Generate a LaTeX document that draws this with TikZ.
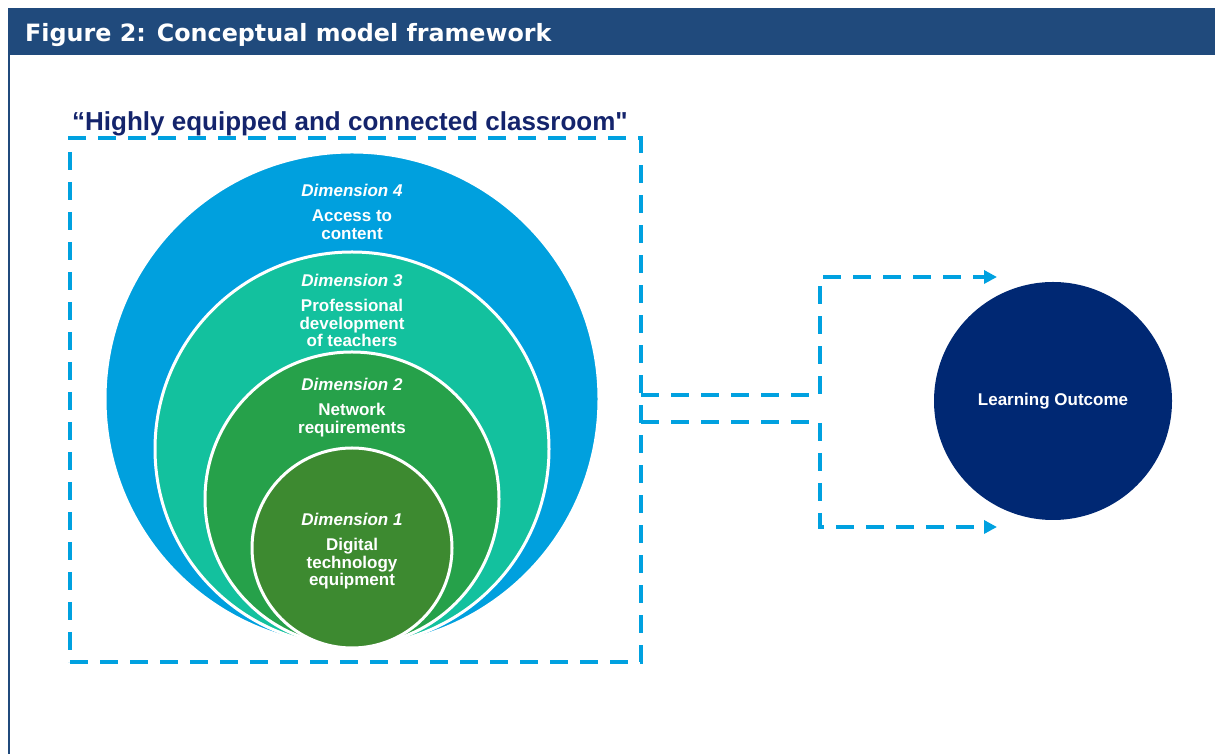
\documentclass[tikz,border=0pt]{standalone}
\usepackage{fontspec}
\setmainfont{Liberation Sans}
\newfontfamily\headfont{DejaVu Sans}
\newfontfamily\quotefont{Liberation Sans}[Ligatures=TeXOff]
\usetikzlibrary{calc, positioning, arrows.meta}

\definecolor{headblue}{RGB}{32,74,124}
\definecolor{titlenavy}{RGB}{20,36,108}
\definecolor{linkblue}{RGB}{0,161,224}
\definecolor{dimfour}{RGB}{0,160,222}
\definecolor{dimthree}{RGB}{19,193,158}
\definecolor{dimtwo}{RGB}{38,161,74}
\definecolor{dimone}{RGB}{61,138,48}
\definecolor{outcomeblue}{RGB}{0,40,115}

\begin{document}
\begin{tikzpicture}[x=1pt,y=1pt,
                    ring/.style={circle,draw=white,line width=3pt,inner sep=0pt,outer sep=0pt},
                    dim text/.style={align=center,text=white,inner sep=0pt,
                                     font=\fontsize{17}{17.5}\selectfont\bfseries},
                    link/.style={draw=linkblue,line width=4.5pt,dash pattern=on 18pt off 12pt}]

\useasboundingbox (0,0) rectangle (1215,754);

%DRAWING HEADER
  \fill[headblue] (8,699) rectangle (1215,746);
  \draw[headblue,line width=2pt] (9,700) -- (9,0);
  \node[anchor=base west,text=white,inner sep=0pt,
        font=\headfont\fontsize{23.8}{24}\selectfont\bfseries] (caption) at (25,712)
        {Figure 2: Conceptual model framework};

%DRAWING DIMENSIONS
  \node[ring,fill=dimfour,minimum size=494pt] (dim4) at (352,355) {};
  \node[ring,fill=dimthree,minimum size=394pt] (dim3) at (352,305) {};
  \node[ring,fill=dimtwo,minimum size=294pt] (dim2) at (352,255) {};
  \node[ring,fill=dimone,minimum size=200pt] (dim1) at (352,206) {};

  \node[dim text] (dim4text) [below=31.5pt of dim4.north] {\textit{Dimension 4}\\[8pt]Access to\\content};
  \node[dim text] (dim3text) [below=21.5pt of dim3.north] {\textit{Dimension 3}\\[8pt]Professional\\development\\of teachers};
  \node[dim text] (dim2text) [below=25.5pt of dim2.north] {\textit{Dimension 2}\\[8pt]Network\\requirements};
  \node[dim text] (dim1text) [below=64.5pt of dim1.north] {\textit{Dimension 1}\\[8pt]Digital\\technology\\equipment};

%DRAWING CLASSROOM BOX
  \node[link,rectangle,minimum width=571pt,minimum height=524pt,inner sep=0pt,outer sep=0pt]
        (classroom) at (355.5,354) {};
  \node[anchor=base west,text=titlenavy,inner sep=0pt,
        font=\quotefont\fontsize{26}{26}\selectfont\bfseries] (classtitle) at (72,623)
        {“Highly equipped and connected classroom"};

%DRAWING OUTCOME
  \node[circle,fill=outcomeblue,minimum size=238pt,inner sep=0pt,text=white,
        font=\fontsize{17}{17}\selectfont\bfseries] (outcome) at (1053,353) {Learning Outcome};

%DRAWING CONNECTORS
  \coordinate (upTip) at (997,477);
  \coordinate (lowTip) at (997,227);
  \draw[link,-{Triangle[length=13pt,width=13pt]}] ($(classroom.east)+(0,5)$) -- ++(179,0) |- (upTip);
  \draw[link,-{Triangle[length=13pt,width=13pt]}] ($(classroom.east)+(0,-22)$) -- ++(179,0) |- (lowTip);

\end{tikzpicture}
\end{document}
